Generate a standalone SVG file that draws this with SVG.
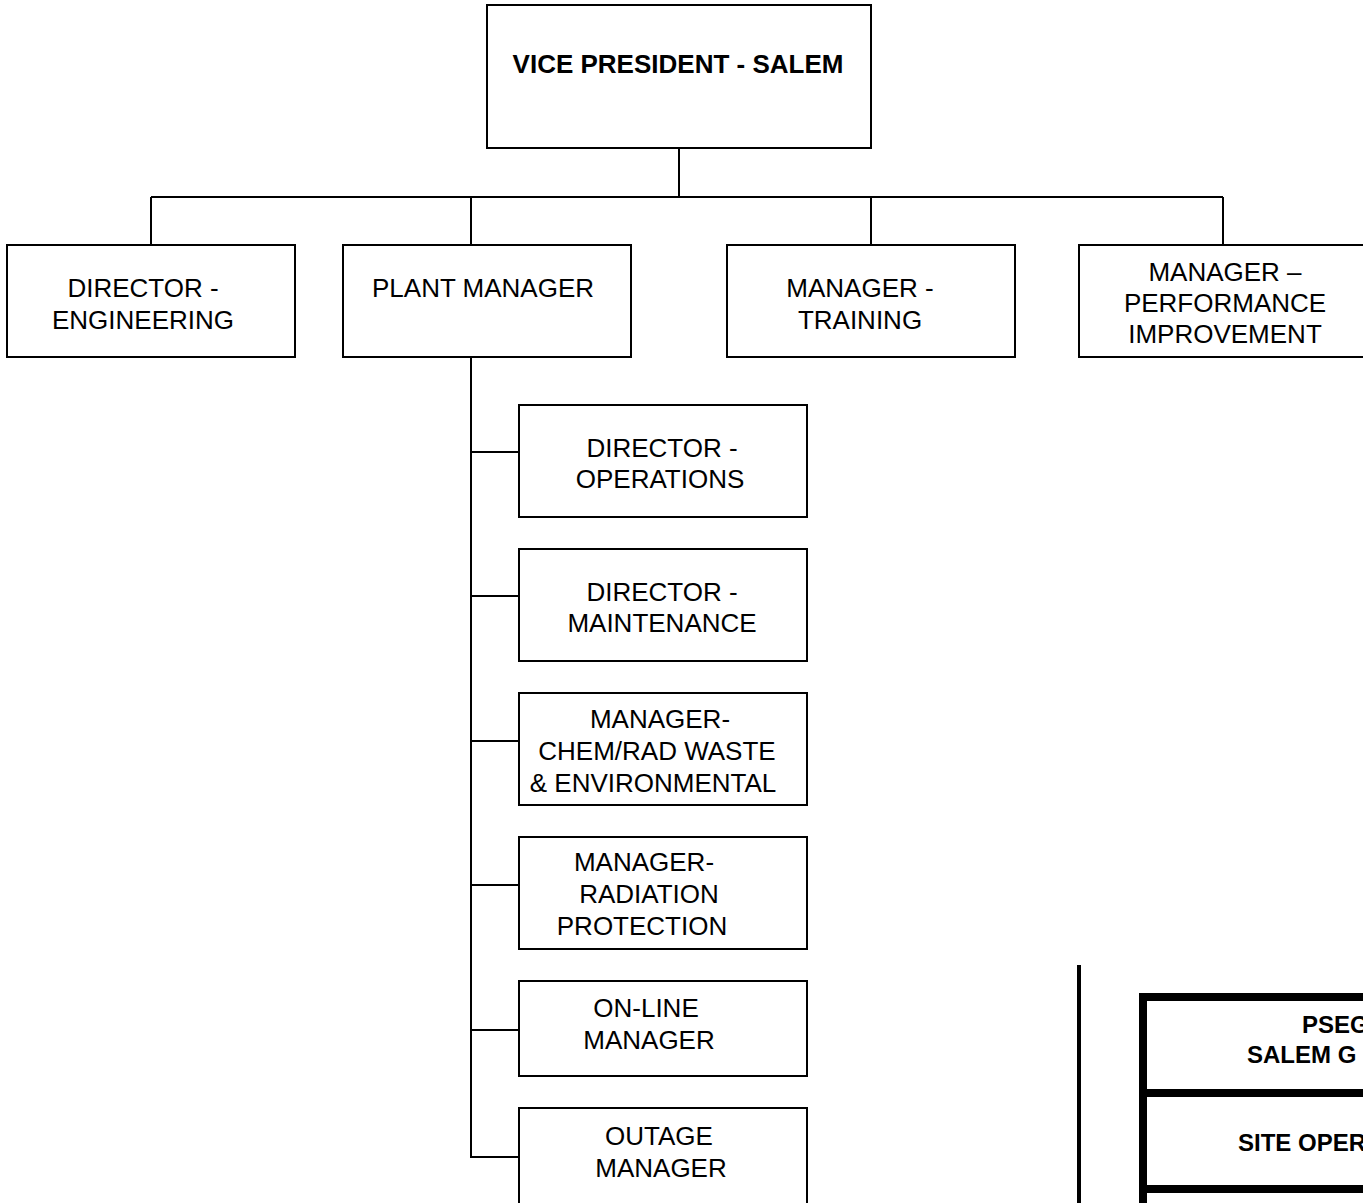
<svg xmlns="http://www.w3.org/2000/svg" width="1363" height="1203" viewBox="0 0 1363 1203">
<style>
.box{fill:#fff;stroke:#000;stroke-width:2}
.t{font-family:"Liberation Sans",Arial,sans-serif;font-size:26px;fill:#000;text-anchor:middle}
.b{font-weight:bold}
.tb{font-family:"Liberation Sans",Arial,sans-serif;font-size:24px;font-weight:bold;fill:#000}
.c{fill:none;stroke:#000;stroke-width:2}
.thick{fill:none;stroke:#000;stroke-width:8}
</style>
<rect width="1363" height="1203" fill="#fff"/>
<g id="connectors">
<path class="c" d="M679 148V197M151 197H1223M151 197V245M471 197V245M871 197V245M1223 197V245"/>
<path class="c" d="M471 357V1157H519M471 452H519M471 596H519M471 741H519M471 885H519M471 1030H519"/>
</g>
<g id="vp">
<rect class="box" x="487" y="5" width="384" height="143"/>
<text class="t b" x="678" y="73">VICE PRESIDENT - SALEM</text>
</g>
<g id="dir-eng">
<rect class="box" x="7" y="245" width="288" height="112"/>
<text class="t" x="143" y="297">DIRECTOR -</text>
<text class="t" x="143" y="329">ENGINEERING</text>
</g>
<g id="plant-mgr">
<rect class="box" x="343" y="245" width="288" height="112"/>
<text class="t" x="483" y="297">PLANT MANAGER</text>
</g>
<g id="mgr-training">
<rect class="box" x="727" y="245" width="288" height="112"/>
<text class="t" x="860" y="297">MANAGER -</text>
<text class="t" x="860" y="329">TRAINING</text>
</g>
<g id="mgr-perf">
<rect class="box" x="1079" y="245" width="300" height="112"/>
<text class="t" x="1225" y="281">MANAGER –</text>
<text class="t" x="1225" y="312">PERFORMANCE</text>
<text class="t" x="1225" y="343">IMPROVEMENT</text>
</g>
<g id="dir-ops">
<rect class="box" x="519" y="405" width="288" height="112"/>
<text class="t" x="662" y="457">DIRECTOR -</text>
<text class="t" x="660" y="488">OPERATIONS</text>
</g>
<g id="dir-maint">
<rect class="box" x="519" y="549" width="288" height="112"/>
<text class="t" x="662" y="601">DIRECTOR -</text>
<text class="t" x="662" y="632">MAINTENANCE</text>
</g>
<g id="mgr-chem">
<rect class="box" x="519" y="693" width="288" height="112"/>
<text class="t" x="660" y="728">MANAGER-</text>
<text class="t" x="657" y="760">CHEM/RAD WASTE</text>
<text class="t" x="653" y="792">&amp; ENVIRONMENTAL</text>
</g>
<g id="mgr-rad">
<rect class="box" x="519" y="837" width="288" height="112"/>
<text class="t" x="644" y="871">MANAGER-</text>
<text class="t" x="649" y="903">RADIATION</text>
<text class="t" x="642" y="935">PROTECTION</text>
</g>
<g id="online-mgr">
<rect class="box" x="519" y="981" width="288" height="95"/>
<text class="t" x="646" y="1017">ON-LINE</text>
<text class="t" x="649" y="1049">MANAGER</text>
</g>
<g id="outage-mgr">
<rect class="box" x="519" y="1108" width="288" height="120"/>
<text class="t" x="659" y="1145">OUTAGE</text>
<text class="t" x="661" y="1177">MANAGER</text>
</g>
<g id="legend">
<path d="M1079 965V1210" fill="none" stroke="#000" stroke-width="4"/>
<path class="thick" d="M1143 1210V997H1380M1143 1093H1380M1143 1189H1380"/>
<text class="tb" x="1302" y="1033">PSEG</text>
<text class="tb" x="1247" y="1063">SALEM G</text>
<text class="tb" x="1238" y="1151">SITE OPER</text>
</g>
</svg>
